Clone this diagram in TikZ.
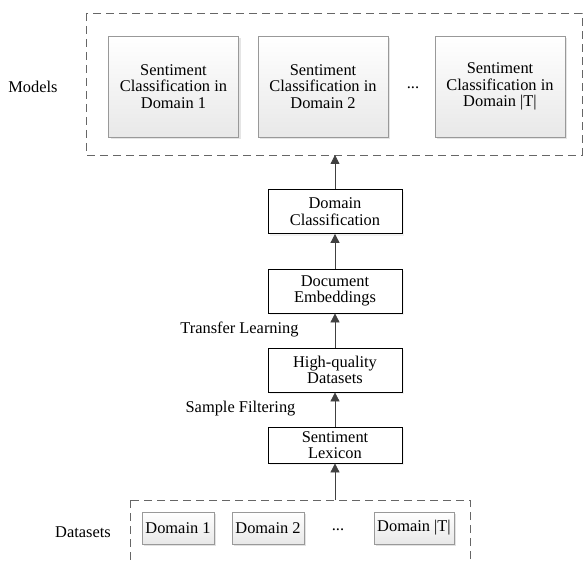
\documentclass[tikz,border=0pt]{standalone}
\usepackage{fontspec}
\setmainfont{Liberation Serif}
\usetikzlibrary{arrows.meta,shadows}

\begin{document}
\begin{tikzpicture}[x=1pt,y=-1pt,
	font=\fontsize{16.4}{16.5}\selectfont,
	modelbox/.style={draw=gray!80,top color=white,bottom color=gray!18,
		minimum width=130pt,minimum height=101pt,align=center,
		drop shadow={shadow xshift=2pt,shadow yshift=-2pt,fill=gray!40}},
	dombox/.style={draw=gray!80,top color=white,bottom color=gray!18,
		minimum height=32pt,inner xsep=3pt,
		drop shadow={shadow xshift=2pt,shadow yshift=-2pt,fill=gray!45}},
	stagebox/.style={draw,thick,fill=white,minimum width=134pt,align=center,
		inner ysep=3pt,
		drop shadow={shadow xshift=2pt,shadow yshift=-2pt,fill=gray!20}},
	groupbox/.style={draw=black!60,thick,dash pattern=on 8pt off 5pt},
	flow/.style={draw=black!75,thick,-{Triangle[width=9pt,length=9pt]}}]
	\useasboundingbox (0,0) rectangle (583,564);
	\clip (0,0) rectangle (583,564);
	\draw[groupbox] (86,13) rectangle (582,155);
	\coordinate (mtop) at (335,155);
	\node[modelbox](m1) at (173.5,86.5){Sentiment\\Classification in\\Domain 1};
	\node[modelbox](m2) at (323,86.5){Sentiment\\Classification in\\Domain 2};
	\node(mdots) at (413,88){...};
	\node[modelbox](m3) at (500,86.5){Sentiment\\Classification in\\Domain |T|};
	\node(models) at (33,87){Models};
	\node[stagebox,minimum height=44pt](dc) at (335,211.5){Domain\\Classification};
	\node[stagebox,minimum height=44pt](de) at (335,291){Document\\Embeddings};
	\node[stagebox,minimum height=44pt](hq) at (335,370){High-quality\\Datasets};
	\node[stagebox,minimum height=36pt](sl) at (335,445){Sentiment\\Lexicon};
	\node(tl) at (239.5,329){Transfer Learning};
	\node(sf) at (240.5,409){Sample Filtering};
	\draw[groupbox] (130,500) rectangle (470,600);
	\coordinate (dtop) at (335,500);
	\node[dombox,minimum width=72pt](d1) at (178,528){Domain 1};
	\node[dombox,minimum width=72pt](d2) at (268,528){Domain 2};
	\node(ddots) at (338,530){...};
	\node[dombox,minimum width=80pt](d3) at (414,528){Domain |T|};
	\node(datasets) at (83,532){Datasets};
	\draw[flow] (dtop) -- (sl);
	\draw[flow] (sl) -- (hq);
	\draw[flow] (hq) -- (de);
	\draw[flow] (de) -- (dc);
	\draw[flow] (dc) -- (mtop);
\end{tikzpicture}
\end{document}
